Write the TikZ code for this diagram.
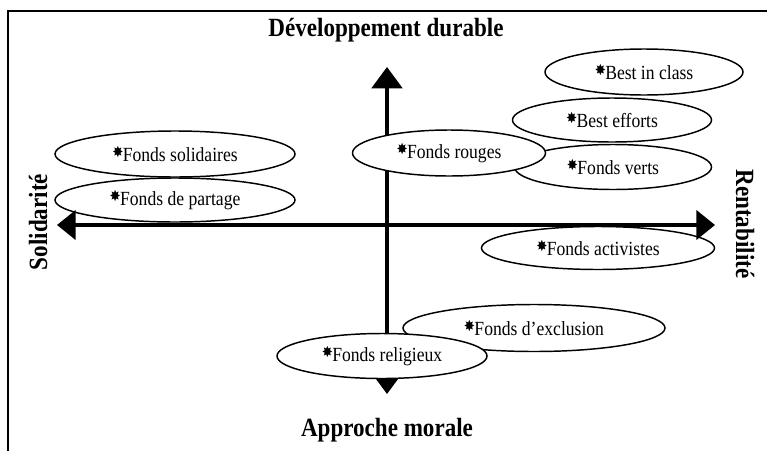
\documentclass[tikz,border=0pt]{standalone}
\usepackage{fontspec}
\setmainfont{Liberation Serif}
\newfontfamily\starfont{DejaVu Sans}
\usetikzlibrary{shapes.geometric,arrows.meta}
\newcommand\fstar{\raisebox{2.2pt}{\starfont\fontsize{10}{10}\selectfont ✸}\kern-0.5pt}
\newcommand\tall[1]{\scalebox{1}[1.14]{#1}}
\begin{document}
\begin{tikzpicture}[x=0.75pt,y=-0.75pt,
  fund/.style={ellipse,draw,fill=white,line width=1.1pt,inner sep=1pt,outer sep=0pt,
    font=\fontsize{13.2}{15}\selectfont},
  axisline/.style={line width=2.4pt},
  vtip/.style={-{Triangle[length=16pt,width=23pt]}},
  htip/.style={{Triangle[length=14pt,width=22pt]}-{Triangle[length=14pt,width=22pt]}},
  axlabel/.style={font=\bfseries\fontsize{17.3}{20}\selectfont}]
\useasboundingbox (0,0) rectangle (767,450);
\draw[line width=1.5pt] (8,452) -- (8,11) -- (769,11);

\coordinate (O) at (387,225);
\coordinate (N) at (387,67);
\coordinate (S) at (387,394);
\coordinate (W) at (57,225);
\coordinate (E) at (715,225);

\draw[axisline,vtip] (O) -- (N);
\draw[axisline,vtip] (O) -- (S);

\node[fund,minimum width=180pt,minimum height=34.5pt] (solidaires) at (175,154) {\tall{\fstar Fonds solidaires}};
\node[fund,minimum width=180pt,minimum height=33pt] (partage) at (175,200) {\tall{\fstar Fonds de partage}};
\node[fund,minimum width=148.5pt,minimum height=34.5pt] (bestclass) at (644,72) {\tall{\fstar Best in class}};
\node[fund,minimum width=147.75pt,minimum height=33.75pt] (verts) at (613,167) {\tall{\fstar Fonds verts}};
\node[fund,minimum width=149.25pt,minimum height=33pt] (besteff) at (612,120) {\tall{\fstar Best efforts}};
\node[fund,minimum width=144.75pt,minimum height=34.5pt] (rouges) at (449,153) {\tall{\fstar Fonds rouges}};
\node[fund,minimum width=174.75pt,minimum height=32.25pt] (activistes) at (598,248) {\tall{\fstar Fonds activistes}};
\node[fund,minimum width=196.5pt,minimum height=35.25pt] (exclusion) at (534,328) {\tall{\fstar Fonds d’exclusion}};
\node[fund,minimum width=157.5pt,minimum height=33.75pt] (religieux) at (382,356) {\tall{\fstar Fonds religieux}};

\draw[axisline,htip] (W) -- (E);

\node[axlabel] (dev) at (386,30) {\tall{Développement durable}};
\node[axlabel] (morale) at (387,430) {\tall{Approche morale}};
\node[axlabel,rotate=90] (solid) at (38,222) {\tall{Solidarité}};
\node[axlabel,rotate=-90] (rent) at (745,224) {\tall{Rentabilité}};
\end{tikzpicture}
\end{document}
